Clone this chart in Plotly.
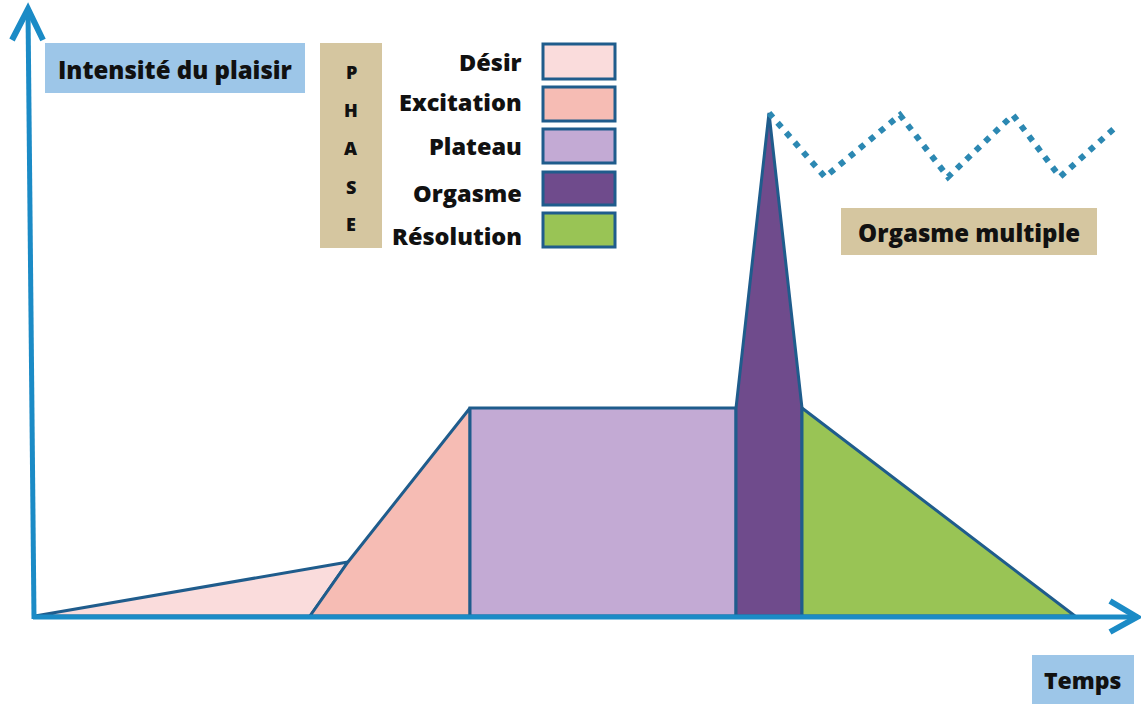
import plotly.graph_objects as go

W, H = 1141, 704

# ---- data (time units, intensity units) ----
phases = ["Désir", "Excitation", "Plateau", "Orgasme", "Résolution"]
phase_colors = ["#FADCDC", "#F6BCB4", "#C3AAD4", "#6F4B8C", "#99C455"]

# key time points
t_start, t_desir_peak, t_desir_end = 0.0, 31.3, 27.5
t_exc_end, t_plat_end, t_peak, t_org_end, t_res_end = 43.5, 70.1, 73.4, 76.7, 104.0
# key intensity values
i_base, i_desir, i_plateau, i_peak = 0.0, 5.4, 20.8, 50.3

desir_t = [t_start, t_desir_peak, t_desir_end]
desir_i = [i_base, i_desir, i_base]
exc_t = [t_desir_end, t_desir_peak, t_exc_end, t_exc_end]
exc_i = [i_base, i_desir, i_plateau, i_base]
plat_t = [t_exc_end, t_exc_end, t_plat_end, t_plat_end]
plat_i = [i_base, i_plateau, i_plateau, i_base]
org_t = [t_plat_end, t_plat_end, t_peak, t_org_end, t_org_end]
org_i = [i_base, i_plateau, i_peak, i_plateau, i_base]
res_t = [t_org_end, t_org_end, t_res_end]
res_i = [i_base, i_plateau, i_base]

multi_t = [73.4, 79.0, 86.5, 91.3, 97.8, 102.5, 108.3]
multi_i = [50.3, 43.9, 50.1, 43.9, 50.1, 43.9, 49.1]

# axis ranges (pixel mapping: x = 35 + 10 t ; y = 616 - 10 i)
x_range = [-3.5, 110.6]
y_range = [-8.8, 61.6]

OUTLINE = "#1F5C8C"
AXIS = "#1B8BC6"
FONT = "'Open Sans', Lato, sans-serif"

fig = go.Figure()

shapes_data = [(desir_t, desir_i), (exc_t, exc_i), (plat_t, plat_i), (org_t, org_i), (res_t, res_i)]
for (tt, ii), name, col in zip(shapes_data, phases, phase_colors):
    fig.add_trace(go.Scatter(x=tt + [tt[0]], y=ii + [ii[0]], fill="toself", fillcolor=col,
                             mode="lines", line=dict(color=OUTLINE, width=3),
                             name=name, showlegend=False, hoverinfo="skip"))

fig.add_trace(go.Scatter(x=multi_t, y=multi_i, mode="lines",
                         line=dict(color="#2C88B2", width=6, dash="6px,7px"),
                         showlegend=False, hoverinfo="skip"))

def px(x):
    return x / W

def py(y):
    return 1 - y / H

shapes = []
annotations = []

# axes with chevron heads (paper coords from pixel layout)
ax_col = AXIS
shapes.append(dict(type="line", xref="paper", yref="paper", x0=px(33), y0=py(617), x1=px(1136), y1=py(617),
                   line=dict(color=ax_col, width=5)))
shapes.append(dict(type="line", xref="paper", yref="paper", x0=px(34), y0=py(619), x1=px(28), y1=py(10),
                   line=dict(color=ax_col, width=5)))
shapes.append(dict(type="path", xref="paper", yref="paper",
                   path=f"M {px(1110)} {py(601)} L {px(1137)} {py(617)} L {px(1110)} {py(632)}",
                   line=dict(color=ax_col, width=6)))
shapes.append(dict(type="path", xref="paper", yref="paper",
                   path=f"M {px(12)} {py(40)} L {px(28)} {py(9)} L {px(43)} {py(40)}",
                   line=dict(color=ax_col, width=6)))

def box(x0, y0, x1, y1, color, line=None):
    shapes.append(dict(type="rect", xref="paper", yref="paper", x0=px(x0), x1=px(x1), y0=py(y1), y1=py(y0),
                       fillcolor=color, line=line or dict(width=0), layer="above"))

def text(x, y, s, size=19, xanchor="center"):
    annotations.append(dict(x=px(x), y=py(y), xref="paper", yref="paper", text=s,
                            showarrow=False, xanchor=xanchor, yanchor="middle",
                            font=dict(family=FONT, size=size, color="#111111", weight=800)))

BLUE_BOX = "#9DC6E8"
TAN_BOX = "#D5C6A0"

box(45, 43, 305, 93, BLUE_BOX)
text(175, 69, "Intensité du plaisir", 24)

box(1032, 655, 1134, 704, BLUE_BOX)
text(1083, 680, "Temps", 23)

box(841, 208, 1097, 255, TAN_BOX)
text(969, 232, "Orgasme multiple", 24)

box(320, 43, 382, 248, TAN_BOX)
for letter, yy in zip("PHASE", [72, 110, 148, 187, 224]):
    text(351, yy, letter, 18)

label_y = [62, 102, 146, 193, 236]
sw_top = [44, 87, 129, 172, 213]
sw_bot = [79, 121, 163, 205, 247]
for name, col, ly, t0, b0 in zip(phases, phase_colors, label_y, sw_top, sw_bot):
    text(524, ly, name, 23.5, xanchor="right")
    box(543, t0, 615, b0, col, line=dict(color=OUTLINE, width=3))

fig.update_layout(
    width=W, height=H,
    margin=dict(l=0, r=0, t=0, b=0),
    paper_bgcolor="white", plot_bgcolor="white",
    xaxis=dict(range=x_range, visible=False, fixedrange=True),
    yaxis=dict(range=y_range, visible=False, fixedrange=True),
    shapes=shapes, annotations=annotations,
    showlegend=False,
)

fig.write_html("out.html", config={"displayModeBar": False},
               post_script="document.body.style.margin='0';document.body.style.overflow='hidden';")
